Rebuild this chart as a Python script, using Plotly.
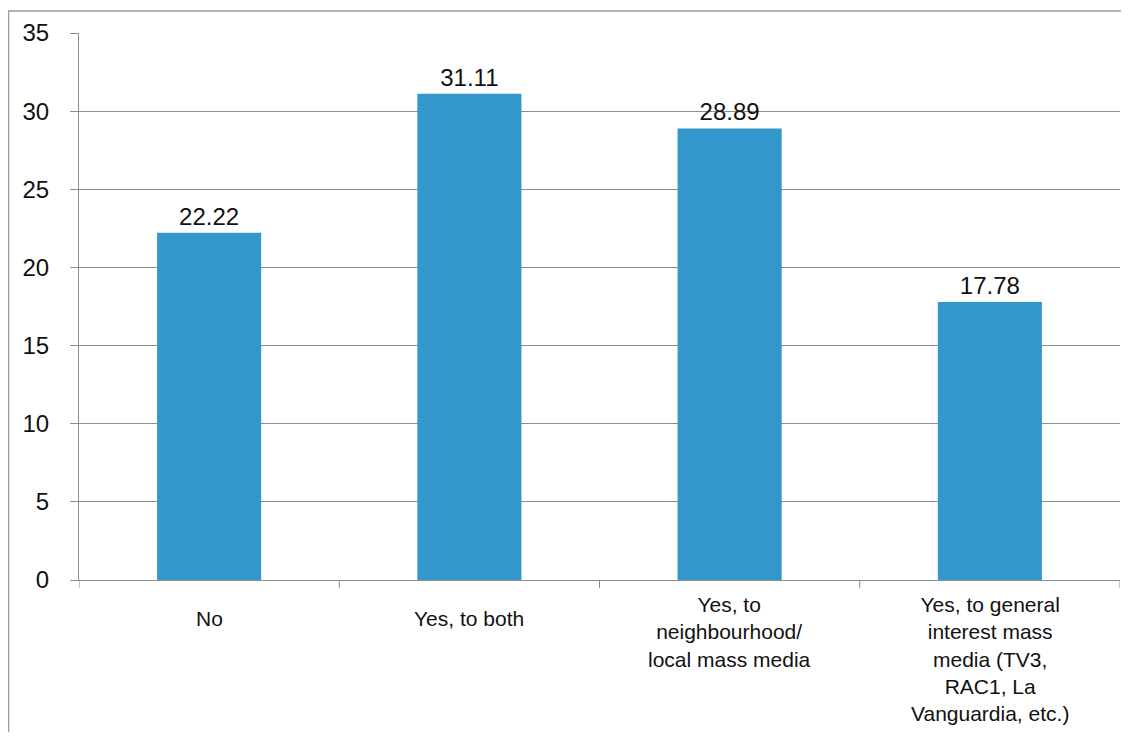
import plotly.graph_objects as go

categories = ["No", "Yes, to both", "Yes, to<br>neighbourhood/<br>local mass media",
              "Yes, to general<br>interest mass<br>media (TV3,<br>RAC1, La<br>Vanguardia, etc.)"]
values = [22.22, 31.11, 28.89, 17.78]
labels = ["22.22", "31.11", "28.89", "17.78"]
y_ticks = [0, 5, 10, 15, 20, 25, 30, 35]

# page body has an 8px margin; figure sized to fill the 1129x740 window
W, H = 1113, 724
L, R, T, B = 71, 1, 25, 152
pw, ph = W - L - R, H - T - B
FONT = "Liberation Sans, Arial, sans-serif"
GRID = "#8c8c8c"
CAT_SIZE = 21
LINE_H = CAT_SIZE * 1.3

fig = go.Figure(go.Bar(
    x=list(range(len(categories))), y=values, text=labels, textposition="outside",
    marker=dict(color="#3497CB", line=dict(width=0)),
    textfont=dict(family=FONT, size=24, color="#111111"),
    cliponaxis=False, width=0.4,
))

fig.update_layout(
    width=W, height=H,
    margin=dict(l=L, r=R, t=T, b=B),
    paper_bgcolor="white", plot_bgcolor="white",
    showlegend=False,
    font=dict(family=FONT, size=24, color="#111111"),
    xaxis=dict(range=[-0.5, len(categories) - 0.5], showgrid=False, showline=True,
               linecolor=GRID, linewidth=1, showticklabels=False, ticks="",
               zeroline=False, fixedrange=True),
    yaxis=dict(range=[0, 35], tickvals=y_ticks, showgrid=True, gridcolor=GRID,
               gridwidth=1, showline=True, linecolor=GRID, linewidth=1,
               ticks="outside", ticklen=8, tickcolor=GRID, zeroline=False,
               tickfont=dict(size=24), ticklabelstandoff=16),
)

# category boundary tick marks on x axis
for i in range(len(categories) + 1):
    fig.add_shape(type="line", xref="x", yref="paper", x0=i - 0.5, x1=i - 0.5,
                  y0=0, y1=-8 / ph, line=dict(color=GRID, width=1))

# category labels
for i, cat in enumerate(categories):
    n = len(cat.split("<br>"))
    first_center = 41 if n == 1 else 27
    fig.add_annotation(x=i, y=0, xref="x", yref="paper", text=cat,
                       showarrow=False, yanchor="top", xanchor="center", align="center",
                       yshift=-(first_center - LINE_H / 2) + 2,
                       font=dict(family=FONT, size=CAT_SIZE, color="#111111"))

# outer chart frame
fig.add_shape(type="rect", xref="paper", yref="paper",
              x0=(0.5 - L) / pw, x1=(W + 20 - L) / pw,
              y0=-(H + 20 - (T + ph)) / ph, y1=(T + ph - 3) / ph,
              line=dict(color="#9a9a9a", width=1.5), layer="below")

fig.write_html("out.html")
